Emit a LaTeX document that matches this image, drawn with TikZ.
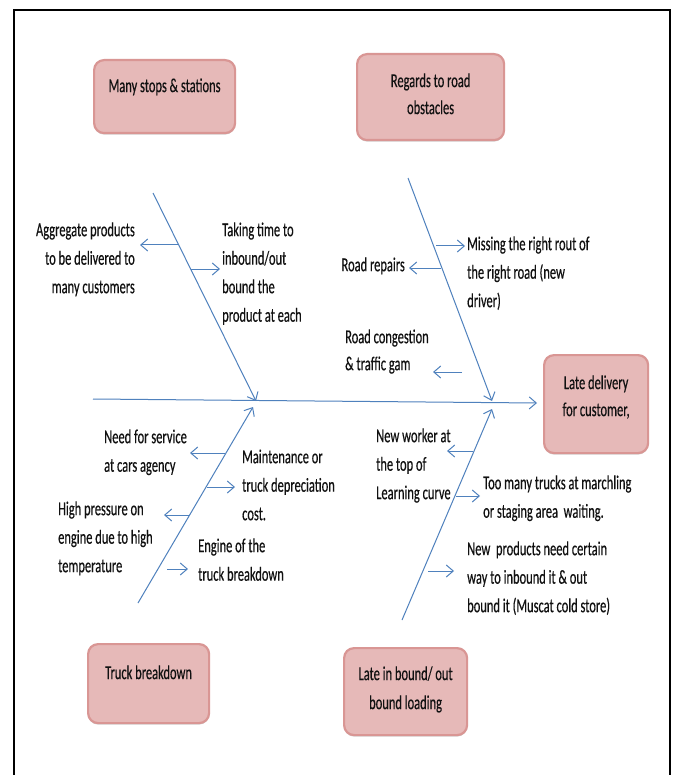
\documentclass[tikz,border=0pt]{standalone}
\usepackage{fontspec}
\setmainfont{Carlito}[FakeStretch=0.63,FakeBold=0.4]
\usetikzlibrary{arrows.meta,shadows}
\definecolor{bonec}{HTML}{4F81BD}
\definecolor{boxfill}{HTML}{E6B9B8}
\definecolor{boxline}{HTML}{D99694}
\definecolor{txtc}{HTML}{111111}
\newcommand{\fl}{\rule{0pt}{20pt}}
\begin{document}
\begin{tikzpicture}[x=1pt,y=-1pt,
  bone/.style={draw=bonec,line width=1pt,-{Straight Barb[length=7pt,width=12pt]}},
  sub/.style={draw=bonec,line width=1pt,-{Straight Barb[length=7pt,width=12pt]}},
  lbl/.style={inner sep=0pt,text=txtc,font=\fontsize{19.8}{28.5}\selectfont},
  cbox/.style={anchor=north west,inner sep=0pt,draw=boxline,fill=boxfill,line width=2.2pt,
    rounded corners=10pt,text=txtc,
    drop shadow={shadow xshift=0pt,shadow yshift=-1.5pt,opacity=0.35,fill=black!50}}]
\useasboundingbox (0,0) rectangle (674,775);
\fill[white] (0,0) rectangle (674,775);
\draw[line width=2.5pt,black] (14,790) -- (14,10) -- (670,10) -- (670,790);

% boxes
\node[cbox] (ms) at (93,59) {\parbox[c][73pt][t]{141pt}{\centering\fontsize{19.8}{27}\selectfont\rule{0pt}{32pt}Many stops \& stations}};
\node[cbox] (rg) at (356,53) {\parbox[c][86pt][t]{147pt}{\centering\fontsize{19.8}{27}\selectfont\rule{0pt}{33pt}Regards to road\\obstacles}};
\node[cbox] (tb) at (87,643) {\parbox[c][79pt][t]{121pt}{\centering\fontsize{19.8}{27}\selectfont\rule{0pt}{35pt}Truck breakdown}};
\node[cbox] (lb) at (343,647) {\parbox[c][87pt][t]{123pt}{\centering\fontsize{19.8}{29}\selectfont\rule{0pt}{32pt}Late in bound/ out\\bound loading}};
\node[cbox] (ld) at (543,354) {\parbox[c][98pt][t]{104pt}{\centering\fontsize{19.8}{27}\selectfont\rule{0pt}{34pt}Late delivery\\for customer,}};

% spine and bones
\coordinate (sp0) at (93,399);
\coordinate (sp1) at (537,403);
\draw[bone] (sp0) -- (sp1);
\coordinate (tl0) at (153,193);
\coordinate (tl1) at (256,401);
\coordinate (tr0) at (408,178);
\coordinate (tr1) at (492,401);
\coordinate (bl0) at (138,603);
\coordinate (bl1) at (253,407);
\coordinate (br0) at (402,620);
\coordinate (br1) at (492,409);
\draw[bone] (tl0) -- (tl1);
\draw[bone] (tr0) -- (tr1);
\draw[bone] (bl0) -- (bl1);
\draw[bone] (br0) -- (br1);

% labels
\node[lbl,anchor=north east,align=right] (agg) at (135,216) {\fl Aggregate products\\to be delivered to\\many customers};
\node[lbl,anchor=north west,align=left] (tak) at (222,216) {\fl Taking time to\\inbound/out\\bound the\\product at each};
\node[lbl,anchor=north west,align=left] (mis) at (467,230) {\fl Missing the right rout of\\the right road (new\\driver)};
\node[lbl,anchor=north east,align=right] (rr) at (405,251) {\fl Road repairs};
\node[lbl,anchor=north west,align=left,font=\fontsize{19.8}{27}\selectfont] (rc) at (345,323) {\fl Road congestion\\\& traffic gam};
\node[lbl,anchor=north west,align=left] (nfs) at (104,423) {\fl Need for service\\at cars agency};
\node[lbl,anchor=north west,align=left] (mnt) at (242,443) {\fl Maintenance or\\truck depreciation\\cost.};
\node[lbl,anchor=north west,align=left] (hp) at (58,495) {\fl High pressure on\\engine due to high\\temperature};
\node[lbl,anchor=north west,align=left] (eng) at (198,532) {\fl Engine of the\\truck breakdown};
\node[lbl,anchor=north west,align=left] (nw) at (376,422) {\fl New worker at\\the top of\\Learning curve};
\node[lbl,anchor=north west,align=left] (tm) at (483,469) {\fl Too many trucks at marchling\\or staging area~ waiting.};
\node[lbl,anchor=north west,align=left] (np) at (467,535) {\fl New~ products need certain\\way to inbound it \& out\\bound it (Muscat cold store)};

% sub arrows
\coordinate (a1) at (178,245); \coordinate (a1e) at (140,245);
\coordinate (a2) at (191,269); \coordinate (a2e) at (220,269);
\coordinate (a3) at (436,246); \coordinate (a3e) at (465,246);
\coordinate (a4) at (441,268); \coordinate (a4e) at (409,268);
\coordinate (a5) at (462,372); \coordinate (a5e) at (433,372);
\coordinate (a6) at (225,453); \coordinate (a6e) at (190,453);
\coordinate (a7) at (207,487); \coordinate (a7e) at (235,487);
\coordinate (a8) at (189,515); \coordinate (a8e) at (164,515);
\coordinate (a9) at (167,569); \coordinate (a9e) at (188,569);
\coordinate (a10) at (473,451); \coordinate (a10e) at (447,451);
\coordinate (a11) at (456,496); \coordinate (a11e) at (480,496);
\coordinate (a12) at (428,571); \coordinate (a12e) at (454,571);
\foreach \i in {1,...,12} {\draw[sub] (a\i) -- (a\i e);}
\end{tikzpicture}
\end{document}
